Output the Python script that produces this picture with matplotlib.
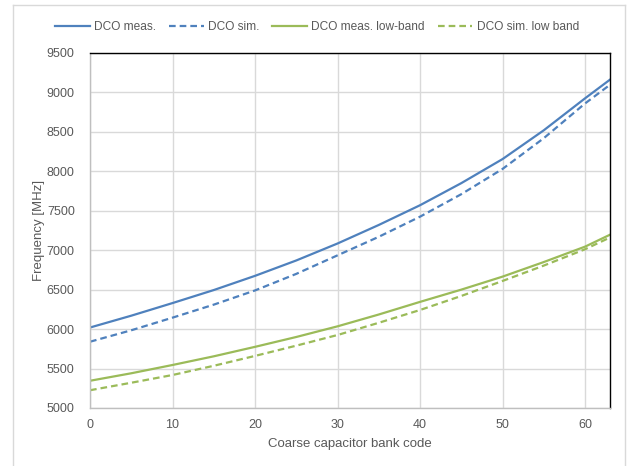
import matplotlib
matplotlib.use('Agg')
import matplotlib.pyplot as plt
from matplotlib.lines import Line2D

plt.rcParams['font.family'] = ['Liberation Sans', 'DejaVu Sans']

# values, coarse code -> frequency in MHz
codes = [0, 5, 10, 15, 20, 25, 30, 35, 40, 45, 50, 55, 60, 63]
dco_meas = [6020, 6170, 6330, 6495, 6675, 6870, 7085, 7320, 7570, 7850, 8155, 8520, 8925, 9160]
dco_sim = [5840, 5985, 6145, 6310, 6490, 6700, 6935, 7170, 7425, 7710, 8030, 8420, 8860, 9095]
low_meas = [5345, 5440, 5545, 5655, 5775, 5900, 6035, 6185, 6345, 6500, 6665, 6850, 7045, 7195]
low_sim = [5225, 5320, 5418, 5535, 5660, 5790, 5925, 6080, 6242, 6420, 6610, 6805, 7012, 7160]

x_ticks = [0, 10, 20, 30, 40, 50, 60]
y_ticks = list(range(5000, 9501, 500))

BLUE = '#4f81bd'
GREEN = '#9bbb59'
TXT = '#595959'
DASH = (0, (3, 1.8))

fig = plt.figure(figsize=(6.3, 4.66), dpi=100)
ax = fig.add_axes([0.1429, 0.1245, 0.8250, 0.7618])

ax.plot(codes, dco_meas, color=BLUE, lw=1.6, label='DCO meas.')
ax.plot(codes, dco_sim, color=BLUE, lw=1.6, ls=DASH, label='DCO sim.')
ax.plot(codes, low_meas, color=GREEN, lw=1.6, label='DCO meas. low-band')
ax.plot(codes, low_sim, color=GREEN, lw=1.6, ls=DASH, label='DCO sim. low band')

ax.set_xlim(0, 63)
ax.set_ylim(5000, 9500)
ax.set_xticks(x_ticks)
ax.set_yticks(y_ticks)
ax.grid(True, color='#d9d9d9', lw=1.0)
ax.set_axisbelow(True)
ax.tick_params(length=0, labelsize=9, colors=TXT)
ax.tick_params(axis='y', pad=11)
ax.tick_params(axis='x', pad=8)

for side in ('top', 'right'):
    ax.spines[side].set_color('black')
    ax.spines[side].set_linewidth(1.0)
for side in ('left', 'bottom'):
    ax.spines[side].set_color('#bfbfbf')
    ax.spines[side].set_linewidth(1.0)

ax.set_xlabel('Coarse capacitor bank code', fontsize=9.5, color=TXT, labelpad=5)
ax.set_ylabel('Frequency [MHz]', fontsize=9.5, color=TXT, labelpad=1)

fig.legend(loc='center', bbox_to_anchor=(0.503, 0.942), ncol=4, frameon=False,
           fontsize=8.6, labelcolor=TXT, handlelength=2.9, handletextpad=0.35,
           columnspacing=1.1)

# light chart-area frame (bottom edge is cut off in the reference)
fw, fh = 630.0, 466.0
frame = dict(color='#d9d9d9', lw=1.0, transform=fig.transFigure)
fig.add_artist(Line2D([13 / fw, 13 / fw], [0, 1 - 5 / fh], **frame))
fig.add_artist(Line2D([13 / fw, 625 / fw], [1 - 5 / fh, 1 - 5 / fh], **frame))
fig.add_artist(Line2D([625 / fw, 625 / fw], [0, 1 - 5 / fh], **frame))

fig.savefig('out.png', dpi=100)
